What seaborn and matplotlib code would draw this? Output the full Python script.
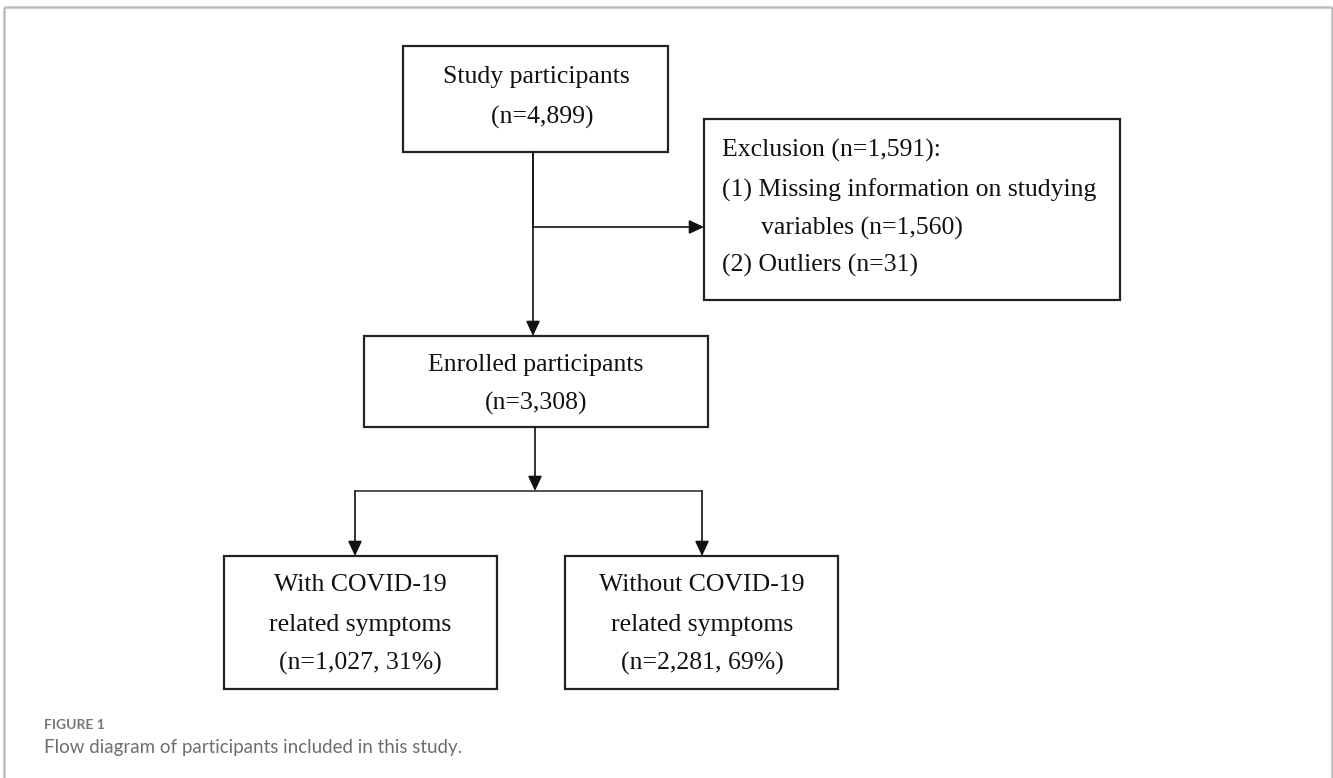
import matplotlib
matplotlib.use("Agg")
import matplotlib.pyplot as plt
import seaborn as sns
from matplotlib.patches import Rectangle

# Données du diagramme (effectifs)
n_total = 4899
n_missing = 1560
n_outliers = 31
n_excluded = n_missing + n_outliers
n_enrolled = n_total - n_excluded
n_with = 1027
n_without = 2281

pct_with = round(100 * n_with / n_enrolled)
pct_without = round(100 * n_without / n_enrolled)

# Textes des boites
study_lines = ["Study participants", f"  (n={n_total:,})"]
excl_lines = [f"Exclusion (n={n_excluded:,}):",
              "(1) Missing information on studying",
              f"variables (n={n_missing:,})",
              f"(2) Outliers (n={n_outliers})"]
enrolled_lines = ["Enrolled participants", f"(n={n_enrolled:,})"]
with_lines = ["With COVID-19", "related symptoms", f"(n={n_with:,}, {pct_with}%)"]
without_lines = ["Without COVID-19", "related symptoms", f"(n={n_without:,}, {pct_without}%)"]

caption_label = "FIGURE 1"
caption_text = "Flow diagram of participants included in this study."

sns.set_theme(style="white")

fig = plt.figure(figsize=(13.33, 7.78), dpi=100)
ax = fig.add_axes([0, 0, 1, 1])
ax.set_xlim(0, 1333)
ax.set_ylim(778, 0)
ax.axis("off")

serif = "Liberation Serif"
fs = 18.5
edge = "#222222"
line_c = "#333333"


def box(x0, y0, x1, y1):
    ax.add_patch(Rectangle((x0, y0), x1 - x0, y1 - y0, fill=False,
                           edgecolor=edge, linewidth=1.6))


def arrow(x0, y0, x1, y1):
    ax.annotate("", xy=(x1, y1), xytext=(x0, y0),
                arrowprops=dict(arrowstyle="-|>,head_length=0.6,head_width=0.28",
                                color="#111111", lw=1.2, mutation_scale=15,
                                shrinkA=0, shrinkB=0))


def centered(lines, cx, ys):
    for t, y in zip(lines, ys):
        ax.text(cx, y, t, ha="center", va="center", fontsize=fs,
                family=serif, color="#111111")


# Cadre gris de la figure
ax.plot([3.5, 3.5], [778, 6.5], color="#bdbdbd", lw=1.8, solid_capstyle="butt")
ax.plot([3.5, 1331.5], [6.5, 6.5], color="#bdbdbd", lw=1.8, solid_capstyle="butt")
ax.plot([1331.5, 1331.5], [6.5, 778], color="#bdbdbd", lw=1.8, solid_capstyle="butt")

# Boite 1 : participants
box(403, 46, 668, 152)
centered(study_lines, 536, [77, 117])

# Boite exclusion
box(704, 119, 1120, 300)
ex_x = [722, 722, 761, 722]
ex_y = [150, 190, 228, 265]
for t, x, y in zip(excl_lines, ex_x, ex_y):
    ax.text(x, y, t, ha="left", va="center", fontsize=fs, family=serif, color="#111111")

# Boite inclus
box(364, 336, 708, 427)
centered(enrolled_lines, 536, [365, 403])

# Boites finales
box(224, 556, 497, 689)
centered(with_lines, 360, [585, 625, 663])
box(565, 556, 838, 689)
centered(without_lines, 702, [585, 625, 663])

# Connecteurs
arrow(533, 152, 533, 336)
ax.plot([533, 533], [152, 227], color=line_c, lw=1.2)
arrow(533, 227, 704, 227)
arrow(535, 427, 535, 491)
ax.plot([355, 702], [491, 491], color=line_c, lw=1.2)
arrow(355, 491, 355, 556)
arrow(702, 491, 702, 556)

# Légende de la figure
ax.text(44, 725, caption_label, ha="left", va="center", fontsize=10,
        family="Lato", fontweight="bold", color="#777777")
ax.text(44, 748, caption_text, ha="left", va="center", fontsize=13.5,
        family="Lato", color="#6e6e6e")

fig.savefig("out.png", dpi=100, facecolor="white")
